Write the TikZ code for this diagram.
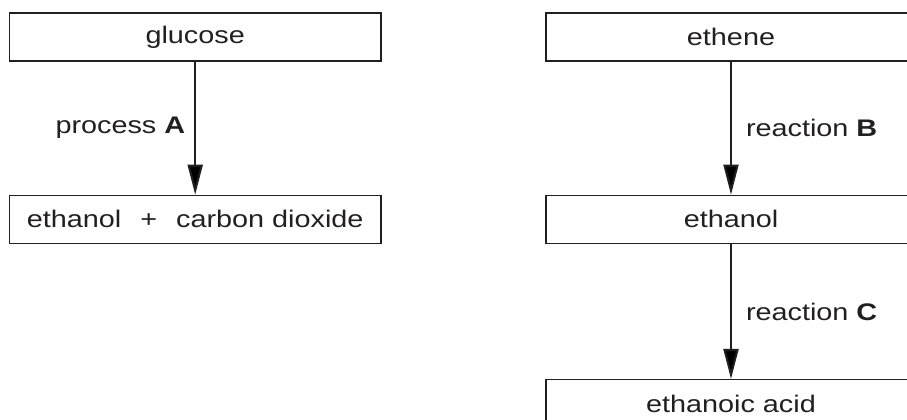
\documentclass[tikz,border=0pt]{standalone}
\usepackage{fontspec}
\setmainfont{Liberation Sans}[FakeStretch=1.2]
\usepackage{tikz}
\usetikzlibrary{positioning,arrows.meta}
\definecolor{ink}{RGB}{35,31,32}

\begin{document}
\begin{tikzpicture}[->,>={Triangle[length=15pt,width=7.5pt]},auto,node distance=66.5pt,
                    box/.style={draw=ink,line width=0.65pt,minimum height=24pt,inner sep=0pt,
                                text=ink,font=\fontsize{12}{14}\selectfont},
                    lbl/.style={text=ink,font=\fontsize{12}{14}\selectfont,inner sep=7pt}]

  \useasboundingbox (0,0) rectangle (453.5pt,-209.5pt);

  \node[box,minimum width=185.75pt] (glucose) at (97.6pt,-18.5pt) {glucose};
  \node[box,minimum width=185.75pt] (ferment) [below=of glucose] {ethanol\hspace{9.5pt}+\hspace{9.5pt}carbon dioxide};

  \node[box,minimum width=185pt] (ethene) at (365.5pt,-18.5pt) {ethene};
  \node[box,minimum width=185pt] (ethanol) [below=of ethene] {ethanol};
  \node[box,minimum width=185pt] (acid) [below=67.5pt of ethanol] {ethanoic acid};

  \path[draw=ink,line width=1pt]
        (glucose) edge node[lbl,swap,inner sep=4.5pt] {process \textbf{A}} (ferment)
        (ethene) edge node[lbl] {reaction \textbf{B}} (ethanol)
        (ethanol) edge node[lbl] {reaction \textbf{C}} (acid)
        ;
\end{tikzpicture}
\end{document}
